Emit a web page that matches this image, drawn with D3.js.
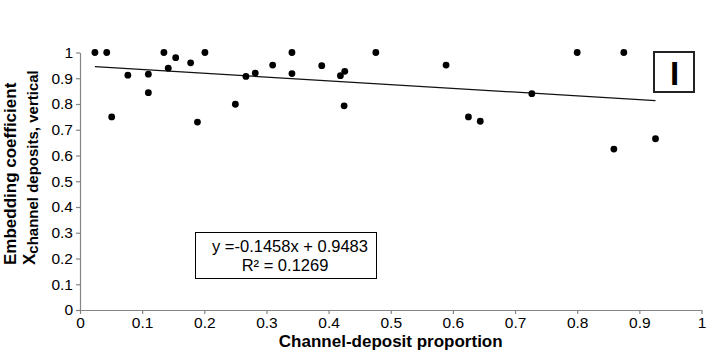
<!DOCTYPE html>
<html>
<head>
<meta charset="utf-8">
<script src="https://cdn.jsdelivr.net/npm/d3@7"></script>
<style>
  html, body { margin: 0; padding: 0; background: #fff; }
  svg { display: block; font-family: "Liberation Sans", Arial, sans-serif; }
</style>
</head>
<body>
<svg id="chart" width="707" height="355"></svg>
<script>
// Channel-deposit proportion (x) vs. vertical embedding coefficient (y)
const proportion = [0.024, 0.043, 0.051, 0.077, 0.110, 0.110, 0.135, 0.142, 0.154, 0.178,
                    0.189, 0.201, 0.250, 0.267, 0.282, 0.310, 0.341, 0.341, 0.389, 0.419,
                    0.426, 0.425, 0.476, 0.589, 0.625, 0.644, 0.727, 0.800, 0.875, 0.859, 0.926];
const embedding  = [1.000, 1.000, 0.750, 0.912, 0.916, 0.844, 1.000, 0.939, 0.980, 0.960,
                    0.730, 1.000, 0.799, 0.907, 0.920, 0.951, 1.000, 0.918, 0.949, 0.910,
                    0.927, 0.793, 1.000, 0.951, 0.750, 0.733, 0.840, 1.000, 1.000, 0.625, 0.665];

// Linear trend fitted to the points
const slope = -0.1458;
const intercept = 0.9483;
const rSquared = 0.1269;

const xTicks = [0, 0.1, 0.2, 0.3, 0.4, 0.5, 0.6, 0.7, 0.8, 0.9, 1];
const yTicks = [0, 0.1, 0.2, 0.3, 0.4, 0.5, 0.6, 0.7, 0.8, 0.9, 1];
const xTickLabels = ["0", "0.1", "0.2", "0.3", "0.4", "0.5", "0.6", "0.7", "0.8", "0.9", "1"];
const yTickLabels = ["0", "0.1", "0.2", "0.3", "0.4", "0.5", "0.6", "0.7", "0.8", "0.9", "1"];

const xTitle = "Channel-deposit proportion";
const yTitle1 = "Embedding coefficient";
const yTitleMain = "X";
const yTitleSub = "channel deposits, vertical";
const panelLabel = "I";

const points = proportion.map((p, i) => ({ x: p, y: embedding[i] }));

const svg = d3.select("#chart");
const plot = { left: 80, right: 701.5, top: 52.5, bottom: 310 };

const x = d3.scaleLinear().domain([0, 1]).range([plot.left, plot.right]);
const y = d3.scaleLinear().domain([0, 1]).range([plot.bottom, plot.top]);

const axisColor = "#858585";

// X axis
const gx = svg.append("g")
  .attr("transform", `translate(0,${plot.bottom})`)
  .call(d3.axisBottom(x).tickValues(xTicks)
    .tickFormat((d, i) => xTickLabels[i])
    .tickSize(4).tickSizeOuter(0).tickPadding(3));

// Y axis
const gy = svg.append("g")
  .attr("transform", `translate(${plot.left},0)`)
  .call(d3.axisLeft(y).tickValues(yTicks)
    .tickFormat((d, i) => yTickLabels[i])
    .tickSize(4).tickSizeOuter(0).tickPadding(3));

[gx, gy].forEach(g => {
  g.select(".domain").attr("stroke", axisColor).attr("stroke-width", 1.2);
  g.selectAll(".tick line").attr("stroke", axisColor).attr("stroke-width", 1.2);
  g.selectAll(".tick text")
    .attr("fill", "#000")
    .style("font-size", "15.5px")
    .style("font-family", "'Liberation Sans', Arial, sans-serif");
});

// Trend line across the observed x range
const xExtent = d3.extent(proportion);
svg.append("line")
  .attr("x1", x(xExtent[0])).attr("y1", y(slope * xExtent[0] + intercept))
  .attr("x2", x(xExtent[1])).attr("y2", y(slope * xExtent[1] + intercept))
  .attr("stroke", "#111").attr("stroke-width", 1.2);

// Points
svg.append("g").selectAll("circle")
  .data(points)
  .join("circle")
  .attr("cx", d => x(d.x))
  .attr("cy", d => y(d.y))
  .attr("r", 3.4)
  .attr("fill", "#000");

// Regression equation box
const eq = svg.append("g");
eq.append("rect")
  .attr("x", 195.5).attr("y", 232.5).attr("width", 181).attr("height", 46)
  .attr("fill", "#fff").attr("stroke", "#000").attr("stroke-width", 1);
eq.append("text")
  .attr("x", 290).attr("y", 251.5)
  .attr("text-anchor", "middle")
  .style("font-size", "16.5px")
  .text(`y =${slope}x + ${intercept}`);
eq.append("text")
  .attr("x", 285).attr("y", 270.5)
  .attr("text-anchor", "middle")
  .style("font-size", "16.5px")
  .text(`R² = ${rSquared}`);

// Panel label
svg.append("rect")
  .attr("x", 654).attr("y", 52).attr("width", 40).attr("height", 40)
  .attr("fill", "#fff").attr("stroke", "#222").attr("stroke-width", 2);
svg.append("text")
  .attr("x", 674.5).attr("y", 85)
  .attr("text-anchor", "middle")
  .style("font-size", "33px").style("font-weight", "bold")
  .text(panelLabel);

// Axis titles
svg.append("text")
  .attr("x", (plot.left + plot.right) / 2).attr("y", 347)
  .attr("text-anchor", "middle")
  .style("font-size", "17px").style("font-weight", "bold")
  .text(xTitle);

svg.append("text")
  .attr("transform", "translate(16,265) rotate(-90)")
  .attr("text-anchor", "start")
  .style("font-size", "17px").style("font-weight", "bold")
  .text(yTitle1);

const yt2 = svg.append("text")
  .attr("transform", "translate(35,265) rotate(-90)")
  .attr("text-anchor", "start")
  .style("font-weight", "bold");
yt2.append("tspan").style("font-size", "17px").text(yTitleMain);
yt2.append("tspan").style("font-size", "15px").attr("dy", 3).text(yTitleSub);
</script>
</body>
</html>
